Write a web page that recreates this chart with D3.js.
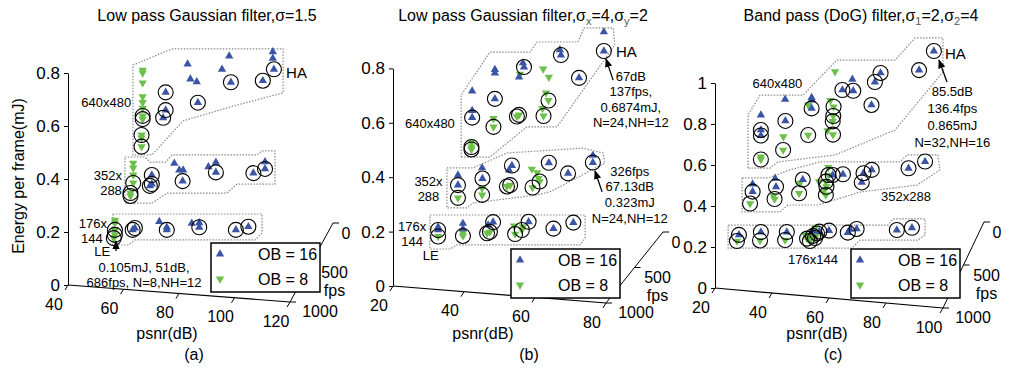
<!DOCTYPE html>
<html>
<head>
<meta charset="utf-8">
<script src="https://cdn.jsdelivr.net/npm/d3@7"></script>
<style>
  body { margin: 0; background: #fff; }
  svg { display: block; font-family: Arial, "Liberation Sans", sans-serif; }
</style>
</head>
<body>
<svg id="chart" width="1009" height="368"></svg>
<script>
// ---- data: [psnr(dB, projected), energy(mJ), circled] ----
const aOB16 = [
  [83.1,0.834,0],[98.1,0.864,0],[95.5,0.814,0],[113.8,0.880,0],[113.8,0.855,0],[114.2,0.814,1],
  [84.1,0.777,0],[86.4,0.767,0],[98.7,0.765,1],[110.2,0.771,1],[75.2,0.727,1],[86.8,0.688,1],
  [75.2,0.660,1],[74.3,0.631,1],
  [70.2,0.415,1],[70.2,0.381,1],[69.5,0.374,1],[78.3,0.459,0],[80.1,0.434,0],[81.5,0.434,0],
  [81.3,0.392,1],[90.6,0.446,0],[93.3,0.463,0],[93.3,0.425,1],[106.8,0.422,1],[111.0,0.465,0],[111.0,0.438,1],
  [63.3,0.208,1],[64.1,0.215,1],[72.9,0.239,0],[75.6,0.218,0],[75.6,0.208,1],[84.6,0.233,0],
  [87.3,0.235,0],[87.3,0.218,1],[100.5,0.208,1],[105.0,0.220,1]
];
const aOB8 = [
  [66.9,0.811,0],[66.9,0.800,0],[66.9,0.763,0],[66.9,0.711,0],[66.9,0.689,0],[66.9,0.667,0],
  [66.9,0.638,1],[66.9,0.626,1],[66.5,0.566,1],[66.5,0.555,0],[66.5,0.522,1],
  [63.5,0.460,0],[63.5,0.442,0],[63.5,0.415,0],[63.5,0.385,1],[62.5,0.347,1],[62.5,0.336,1],
  [56.9,0.245,0],[56.9,0.234,0],[56.9,0.208,1],[56.9,0.189,1],[56.5,0.177,1]
];
const bOB16 = [
  [79.4,0.934,0],[79.4,0.864,1],[67.0,0.868,0],[67.3,0.849,1],[56.6,0.820,0],[56.9,0.805,1],
  [48.7,0.796,0],[48.7,0.783,0],[55.5,0.768,0],[72.4,0.765,1],[42.3,0.717,0],[48.7,0.688,1],
  [42.3,0.645,0],[42.3,0.619,1],
  [38.3,0.408,0],[38.3,0.371,1],[45.1,0.434,0],[45.2,0.395,1],[53.5,0.443,1],[52.7,0.426,0],
  [63.9,0.453,1],[69.3,0.414,1],[76.3,0.480,0],[76.3,0.454,1],
  [32.7,0.217,0],[32.7,0.206,1],[39.7,0.230,0],[39.7,0.210,0],[46.8,0.224,0],[48.2,0.235,1],
  [58.2,0.236,1],[65.2,0.211,1],[70.8,0.233,1]
];
const bOB8 = [
  [55.8,0.779,0],[62.3,0.798,0],[63.9,0.768,0],[63.1,0.710,0],[63.8,0.682,1],[62.1,0.653,0],
  [62.4,0.625,1],[55.5,0.629,1],[54.9,0.623,1],[48.3,0.616,0],[48.3,0.585,1],[42.1,0.528,0],
  [42.1,0.511,1],[42.1,0.502,1],
  [38.3,0.324,1],[45.1,0.360,0],[45.1,0.335,1],[52.1,0.366,1],[53.0,0.371,1],[59.1,0.430,0],
  [60.6,0.417,0],[61.0,0.396,0],[61.3,0.384,1],[59.3,0.362,1],
  [32.7,0.182,1],[39.7,0.195,0],[39.7,0.184,1],[46.5,0.194,1],[47.3,0.199,1],[54.1,0.221,0],
  [54.4,0.191,1],[56.3,0.206,1],[56.6,0.217,0]
];
const cOB16 = [
  [96.8,1.156,1],[91.6,1.063,1],[78.1,1.049,1],[76.1,1.005,1],[68.2,1.018,0],[68.5,0.962,1],
  [64.7,0.966,1],[74.9,0.893,1],[53.9,0.929,0],[54.0,0.917,0],[53.9,0.876,1],[44.6,0.920,0],
  [44.7,0.815,1],[36.1,0.844,0],[36.1,0.771,1],[36.1,0.744,1],
  [33.2,0.507,0],[33.2,0.470,1],[41.1,0.535,0],[41.4,0.494,1],[50.8,0.529,1],[61.3,0.551,1],
  [64.9,0.555,1],[72.1,0.560,1],[75.0,0.576,1],[71.5,0.515,1],[87.9,0.584,1],[93.7,0.617,1],
  [28.4,0.259,1],[36.1,0.273,1],[45.2,0.273,1],[54.3,0.278,0],[56.6,0.275,1],[60.0,0.280,1],
  [66.6,0.270,1],[67.4,0.286,0],[69.7,0.288,1],[83.8,0.283,1],[89.1,0.294,1]
];
const cOB8 = [
  [62.1,1.055,0],[60.5,0.915,0],[61.6,0.884,1],[61.5,0.839,1],[61.3,0.813,1],[59.5,0.768,0],
  [61.4,0.748,1],[52.7,0.893,0],[52.7,0.746,1],[44.0,0.738,0],[43.9,0.673,1],[36.1,0.639,0],[36.1,0.627,1],
  [32.3,0.412,1],[40.5,0.449,0],[40.9,0.434,1],[49.5,0.462,1],[49.8,0.511,0],[59.8,0.588,0],
  [56.5,0.519,0],[58.9,0.519,1],[59.1,0.494,1],[58.0,0.470,0],[58.9,0.454,1],[59.8,0.551,1],
  [27.7,0.229,1],[35.8,0.232,1],[44.6,0.234,1],[51.6,0.259,0],[52.3,0.241,1],[53.3,0.229,1],
  [55.1,0.293,0],[55.1,0.244,1],[55.8,0.266,1],[54.4,0.254,1]
];

// resolution group outlines, in (psnr, energy)
const aGroups = [
  [[63.4,0.830],[77.5,0.891],[117.5,0.891],[117.5,0.725],[99.5,0.675],[81.4,0.619],[70.3,0.491],[63.4,0.491]],
  [[60.5,0.483],[67.7,0.483],[69.5,0.464],[75.3,0.464],[77.5,0.491],[108.1,0.491],[109.9,0.506],[114.6,0.506],
   [114.6,0.381],[100.9,0.381],[97.3,0.347],[75.7,0.347],[70.3,0.309],[60.5,0.309]],
  [[56.2,0.268],[109.9,0.268],[109.9,0.196],[107.4,0.170],[64.1,0.170],[61.6,0.151],[56.2,0.151]]
];
const bGroups = [
  [[39.2,0.474],[39.2,0.702],[47.3,0.860],[58.6,0.860],[60.6,0.897],[72.1,0.897],[73.8,0.949],[82.0,0.949],
   [82.5,0.886],[66.2,0.585],[57.7,0.585],[47.3,0.474]],
  [[35.2,0.434],[42.5,0.434],[52.1,0.489],[73.5,0.507],[79.2,0.489],[79.7,0.452],[64.2,0.346],[60.6,0.335],
   [42.5,0.305],[40.8,0.287],[35.2,0.287]],
  [[30.4,0.261],[74.1,0.261],[74.1,0.176],[72.7,0.151],[38.0,0.151],[36.1,0.136],[30.4,0.136]]
];
const cGroups = [
  [[31.6,0.585],[31.6,0.844],[35.8,0.941],[50.9,0.941],[62.8,1.112],[83.2,1.112],[90.2,1.220],[100,1.220],
   [100,1.054],[83.2,0.771],[62.1,0.649],[42.1,0.615],[39.3,0.585]],
  [[29.5,0.537],[38.6,0.537],[46.3,0.576],[56.8,0.615],[84.9,0.615],[87.4,0.649],[98.2,0.649],[98.9,0.576],
   [90.9,0.502],[70.9,0.468],[56.1,0.405],[45.6,0.405],[42.8,0.371],[29.5,0.371]],
  [[24.6,0.307],[80.7,0.307],[82.5,0.337],[93.7,0.337],[93.7,0.259],[91.2,0.234],[70.9,0.234],[68.1,0.195],[24.6,0.195]]
];

// text annotations [text, psnr, energy, anchor]
const aNotes = [
  ['640x480',53.8,0.687,'middle'],['352x',54.4,0.415,'middle'],['288',55.5,0.355,'middle'],
  ['176x',49.0,0.234,'middle'],['144',48.6,0.177,'middle'],['LE',52.3,0.128,'middle'],
  ['0.105mJ, 51dB,',67.4,0.068,'middle'],['686fps, N=8,NH=12',67.4,0.011,'middle'],['HA',118.6,0.801,'start']
];
const bNotes = [
  ['640x480',30.4,0.599,'middle'],['HA',82.8,0.861,'start'],
  ['67dB',87.0,0.770,'middle'],['137fps,',87.0,0.714,'middle'],['0.6874mJ,',87.0,0.658,'middle'],['N=24,NH=12',87.0,0.600,'middle'],
  ['326fps',86.7,0.421,'middle'],['67.13dB',86.7,0.366,'middle'],['0.323mJ',86.7,0.308,'middle'],['N=24,NH=12',86.7,0.250,'middle'],
  ['352x',30.0,0.383,'middle'],['288',30.0,0.331,'middle'],['176x',25.4,0.218,'middle'],['144',25.4,0.165,'middle'],['LE',30.6,0.114,'middle']
];
const cNotes = [
  ['640x480',41.9,0.998,'middle'],['HA',100.7,1.145,'start'],
  ['85.5dB',103.3,0.960,'middle'],['136.4fps',103.3,0.878,'middle'],['0.865mJ',103.3,0.795,'middle'],['N=32,NH=16',103.3,0.712,'middle'],
  ['352x288',87.0,0.445,'middle'],['176x144',54.4,0.137,'middle']
];
// arrows [fromPsnr, fromE, toPsnr, toE]
const aArrows = [[57.3,0.128,57.3,0.166]];
const bArrows = [[82.0,0.757,80.0,0.835],[78.9,0.346,76.9,0.423]];
const cArrows = [[101.4,1.005,98.6,1.112]];

const yTicksAB = [0, 0.2, 0.4, 0.6, 0.8];
const yTicksC = [0, 0.2, 0.4, 0.6, 0.8, 1];
const xTicksA = [40, 60, 80, 100, 120];
const xTicksB = [20, 40, 60, 80];
const xTicksC = [20, 40, 60, 80, 100];
const fpsTicks = [0, 500, 1000];
const legendLabels = ['OB = 16', 'OB = 8'];

// ---- layout ----
const BLUE = '#3b54a5', GREEN = '#6cbf48';
const panels = [
  { hi: aOB16, lo: aOB8, groups: aGroups, notes: aNotes, arrows: aArrows, xt: xTicksA, yt: yTicksAB,
    xd: [40, 120], xr: [68, 290], yd: [0, 0.8], yr: [285, 73], drop: 17, fps: [43, -79],
    legend: [211, 243], tag: '(a)', tagX: 194, psnrX: 167, titleX: 207,
    title: t => { t.text('Low pass Gaussian filter,\u03c3=1.5'); } },
  { hi: bOB16, lo: bOB8, groups: bGroups, notes: bNotes, arrows: bArrows, xt: xTicksB, yt: yTicksAB,
    xd: [20, 80], xr: [393, 606], yd: [0, 0.8], yr: [286, 68.4], drop: 17, fps: [57, -71],
    legend: [511, 249], tag: '(b)', tagX: 529, psnrX: 483, titleX: 523,
    title: t => {
      t.append('tspan').text('Low pass Gaussian filter,\u03c3');
      t.append('tspan').attr('font-size', 11).attr('dy', 4).attr('fill', '#555').text('x');
      t.append('tspan').attr('dy', -4).text('=4,\u03c3');
      t.append('tspan').attr('font-size', 11).attr('dy', 4).attr('fill', '#555').text('y');
      t.append('tspan').attr('dy', -4).text('=2');
    } },
  { hi: cOB16, lo: cOB8, groups: cGroups, notes: cNotes, arrows: cArrows, xt: xTicksC, yt: yTicksC,
    xd: [20, 100], xr: [715, 943], yd: [0, 1], yr: [288, 83], drop: 20, fps: [41, -86],
    legend: [851, 249], tag: '(c)', tagX: 833, psnrX: 817, titleX: 861,
    title: t => {
      t.append('tspan').text('Band pass (DoG) filter,\u03c3');
      t.append('tspan').attr('font-size', 11).attr('dy', 4).attr('fill', '#555').text('1');
      t.append('tspan').attr('dy', -4).text('=2,\u03c3');
      t.append('tspan').attr('font-size', 11).attr('dy', 4).attr('fill', '#555').text('2');
      t.append('tspan').attr('dy', -4).text('=4');
    } }
];

const svg = d3.select('#chart');
svg.append('defs').append('marker')
  .attr('id', 'arrow').attr('viewBox', '0 0 10 10').attr('refX', 9).attr('refY', 5)
  .attr('markerWidth', 7).attr('markerHeight', 7).attr('orient', 'auto-start-reverse')
  .append('path').attr('d', 'M0,1 L10,5 L0,9 Z').attr('fill', '#000');

const triUp = d3.symbol().type(d3.symbolTriangle).size(30);

svg.append('text')
  .attr('transform', 'translate(18,176) rotate(-90)')
  .attr('text-anchor', 'middle').attr('dy', '0.35em').attr('font-size', 16)
  .text('Energy per frame(mJ)');

panels.forEach(p => {
  const x = d3.scaleLinear().domain(p.xd).range(p.xr);
  const y = d3.scaleLinear().domain(p.yd).range(p.yr);
  const g = svg.append('g');
  const lineY = v => p.yr[0] + p.drop * (x(v) - p.xr[0]) / (p.xr[1] - p.xr[0]);

  // title
  p.title(g.append('text').attr('x', p.titleX).attr('y', 21).attr('text-anchor', 'middle').attr('font-size', 16));

  // y axis
  const ya = g.append('g').attr('transform', `translate(${p.xr[0]},0)`)
    .call(d3.axisLeft(y).tickValues(p.yt).tickSize(4).tickSizeOuter(0).tickPadding(4).tickFormat(d3.format('')));
  ya.attr('font-size', 17).attr('font-family', null);
  ya.selectAll('path,line').attr('stroke', '#000');

  // tilted psnr axis
  g.append('line')
    .attr('x1', x(p.xd[0])).attr('y1', lineY(p.xd[0]))
    .attr('x2', x(p.xd[1])).attr('y2', lineY(p.xd[1]))
    .attr('stroke', '#000').attr('stroke-width', 1.2);
  const xt = g.selectAll('.xt').data(p.xt).join('g').attr('class', 'xt');
  xt.append('line')
    .attr('x1', d => x(d)).attr('y1', d => lineY(d))
    .attr('x2', d => x(d) - 3).attr('y2', d => lineY(d) + 5)
    .attr('stroke', '#000');
  xt.append('text')
    .attr('x', d => x(d) - 14).attr('y', d => lineY(d) + 19)
    .attr('dy', '0.35em').attr('text-anchor', 'middle').attr('font-size', 16)
    .text(d => d);
  g.append('text').attr('x', p.psnrX).attr('y', 333).attr('dy', '0.35em')
    .attr('text-anchor', 'middle').attr('font-size', 16).text('psnr(dB)');
  g.append('text').attr('x', p.tagX).attr('y', 354).attr('dy', '0.35em')
    .attr('text-anchor', 'middle').attr('font-size', 16).text(p.tag);

  // fps axis (depth)
  const bx = x(p.xd[1]), by = lineY(p.xd[1]);
  const f = d3.scaleLinear().domain([1000, 0]).range([0, 1]);
  const fx = v => bx + p.fps[0] * f(v), fy = v => by + p.fps[1] * f(v);
  g.append('line').attr('x1', fx(1000)).attr('y1', fy(1000)).attr('x2', fx(0)).attr('y2', fy(0))
    .attr('stroke', '#000');
  g.selectAll('.ft').data(fpsTicks).join('line')
    .attr('x1', d => fx(d)).attr('y1', d => fy(d)).attr('x2', d => fx(d) + 6).attr('y2', d => fy(d))
    .attr('stroke', '#000');
  const fpsLab = [['0', 0, 13, 10], ['500', 500, 23, 10], ['fps', 500, 23, 28], ['1000', 1000, 30, 9]];
  g.selectAll('.fl').data(fpsLab).join('text')
    .attr('x', d => fx(d[1]) + d[2]).attr('y', d => fy(d[1]) + d[3]).attr('dy', '0.35em')
    .attr('text-anchor', 'middle').attr('font-size', 16).text(d => d[0]);

  // group outlines
  const line = d3.line().x(d => x(d[0])).y(d => y(d[1]));
  g.selectAll('.grp').data(p.groups).join('path')
    .attr('d', d => line(d) + 'Z')
    .attr('fill', 'none').attr('stroke', '#8a8a8a').attr('stroke-width', 1.2)
    .attr('stroke-dasharray', '1.5,1.5');

  // points
  g.selectAll('.lo').data(p.lo).join('path')
    .attr('d', triUp).attr('fill', GREEN)
    .attr('transform', d => `translate(${x(d[0])},${y(d[1])}) rotate(180)`);
  g.selectAll('.hi').data(p.hi).join('path')
    .attr('d', triUp).attr('fill', BLUE)
    .attr('transform', d => `translate(${x(d[0])},${y(d[1])})`);
  g.selectAll('.ring').data(p.hi.concat(p.lo).filter(d => d[2])).join('circle')
    .attr('cx', d => x(d[0])).attr('cy', d => y(d[1])).attr('r', 7.5)
    .attr('fill', 'none').attr('stroke', '#000').attr('stroke-width', 1.1);

  // annotations
  g.selectAll('.note').data(p.notes).join('text')
    .attr('x', d => x(d[1])).attr('y', d => y(d[2])).attr('dy', '0.35em')
    .attr('text-anchor', d => d[3]).attr('font-size', d => d[0] === 'HA' ? 15 : 13)
    .text(d => d[0]);
  g.selectAll('.arr').data(p.arrows).join('line')
    .attr('x1', d => x(d[0])).attr('y1', d => y(d[1]))
    .attr('x2', d => x(d[2])).attr('y2', d => y(d[3]))
    .attr('stroke', '#000').attr('stroke-width', 1.3).attr('marker-end', 'url(#arrow)');

  // legend
  const lg = g.append('g').attr('transform', `translate(${p.legend[0]},${p.legend[1]})`);
  lg.append('rect').attr('width', 109).attr('height', 49)
    .attr('fill', '#fff').attr('stroke', '#000').attr('stroke-width', 1.5);
  const items = lg.selectAll('.li').data(legendLabels).join('g')
    .attr('transform', (d, i) => `translate(0,${11 + i * 25})`);
  items.append('path').attr('d', triUp)
    .attr('fill', (d, i) => i ? GREEN : BLUE)
    .attr('transform', (d, i) => `translate(9,0)${i ? ' rotate(180)' : ''}`);
  items.append('text').attr('x', 47).attr('dy', '0.35em').attr('font-size', 16).text(d => d);
});
</script>
</body>
</html>
